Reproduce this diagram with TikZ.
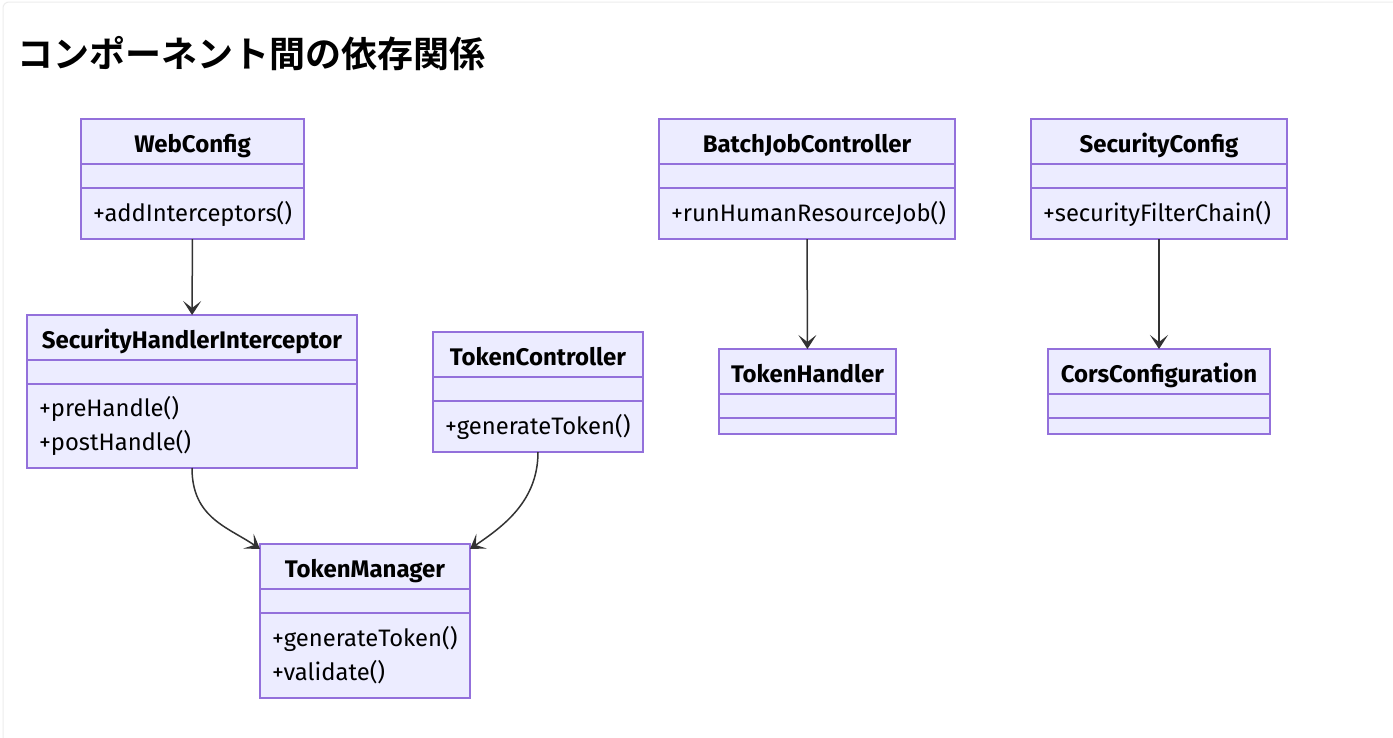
\documentclass[tikz,border=0pt]{standalone}
\usepackage{fontspec}
\setmainfont{Fira Sans}
\newfontfamily\cjk[BoldFont={Noto Sans CJK JP Bold}]{Noto Sans CJK JP}
\usetikzlibrary{positioning,arrows.meta}
\definecolor{umlfill}{HTML}{ECECFF}
\definecolor{umlline}{HTML}{9370DB}
\definecolor{deparrow}{HTML}{333333}
\begin{document}
\begin{tikzpicture}[x=1pt,y=-1pt,
  box/.style={draw=umlline, fill=umlfill, line width=1.4pt, outer sep=0pt, inner ysep=2pt},
  classhead/.style={box, minimum height=45pt, text height=22pt, text depth=0pt, font=\bfseries\fontsize{24}{28}\selectfont},
  classattr/.style={box, minimum height=24pt},
  classops/.style={box, minimum height=51pt, inner xsep=12pt, align=left, font=\fontsize{23.8}{34}\selectfont},
  dep/.style={-{Stealth[length=14pt, width=18pt, inset=7pt]}, draw=deparrow, line width=1.5pt}]
\useasboundingbox (0,0) rectangle (1393,737);
\fill[white] (0,0) rectangle (1393,737);
\draw[black!7, line width=1pt, rounded corners=6pt] (3,2) rectangle (1430,780);
\node[anchor=west, inner sep=0pt, font=\cjk\bfseries\fontsize{36}{40}\selectfont] (title) at (17,54) {コンポーネント間の依存関係};
% top row
\node[classhead, minimum width=223pt] (webconfig) at (192.5,141.5) {WebConfig};
\node[classattr, minimum width=223pt, below=0pt of webconfig] (webconfig-attr) {};
\node[classops, text width=199pt, below=0pt of webconfig-attr] (webconfig-ops) {+addInterceptors()};
\node[classhead, minimum width=296pt] (batchjob) at (807,141.5) {BatchJobController};
\node[classattr, minimum width=296pt, below=0pt of batchjob] (batchjob-attr) {};
\node[classops, text width=272pt, below=0pt of batchjob-attr] (batchjob-ops) {+runHumanResourceJob()};
\node[classhead, minimum width=256pt] (secconfig) at (1159,141.5) {SecurityConfig};
\node[classattr, minimum width=256pt, below=0pt of secconfig] (secconfig-attr) {};
\node[classops, text width=232pt, below=0pt of secconfig-attr] (secconfig-ops) {+securityFilterChain()};
% middle row
\node[classhead, minimum width=330pt] (interceptor) at (192,337.5) {SecurityHandlerInterceptor};
\node[classattr, minimum width=330pt, below=0pt of interceptor] (interceptor-attr) {};
\node[classops, text width=306pt, minimum height=84pt, below=0pt of interceptor-attr] (interceptor-ops) {+preHandle()\\+postHandle()};
\node[classhead, minimum width=210pt] (tokenctrl) at (538,354.5) {TokenController};
\node[classattr, minimum width=210pt, below=0pt of tokenctrl] (tokenctrl-attr) {};
\node[classops, text width=186pt, below=0pt of tokenctrl-attr] (tokenctrl-ops) {+generateToken()};
\node[classhead, minimum width=177pt] (tokenhandler) at (807.5,371.5) {TokenHandler};
\node[classattr, minimum width=177pt, below=0pt of tokenhandler] (tokenhandler-attr) {};
\node[classattr, minimum width=177pt, minimum height=16pt, inner ysep=0pt, below=0pt of tokenhandler-attr] (tokenhandler-ops) {};
\node[classhead, minimum width=222pt] (cors) at (1159,371.5) {CorsConfiguration};
\node[classattr, minimum width=222pt, below=0pt of cors] (cors-attr) {};
\node[classattr, minimum width=222pt, minimum height=16pt, inner ysep=0pt, below=0pt of cors-attr] (cors-ops) {};
% bottom
\node[classhead, minimum width=210pt] (tokenmgr) at (365,566.5) {TokenManager};
\node[classattr, minimum width=210pt, below=0pt of tokenmgr] (tokenmgr-attr) {};
\node[classops, text width=186pt, minimum height=85pt, below=0pt of tokenmgr-attr] (tokenmgr-ops) {+generateToken()\\+validate()};
% dependencies
\draw[dep] (webconfig-ops) -- (interceptor);
\draw[dep] (batchjob-ops) -- (tokenhandler);
\draw[dep] (secconfig-ops) -- (cors);
\draw[dep] (interceptor-ops.south) .. controls +(0,50) and +(-32,-22) .. ([yshift=-5pt]tokenmgr.north west);
\draw[dep] (tokenctrl-ops.south) .. controls +(0,50) and +(32,-22) .. ([yshift=-5pt]tokenmgr.north east);
\end{tikzpicture}
\end{document}
